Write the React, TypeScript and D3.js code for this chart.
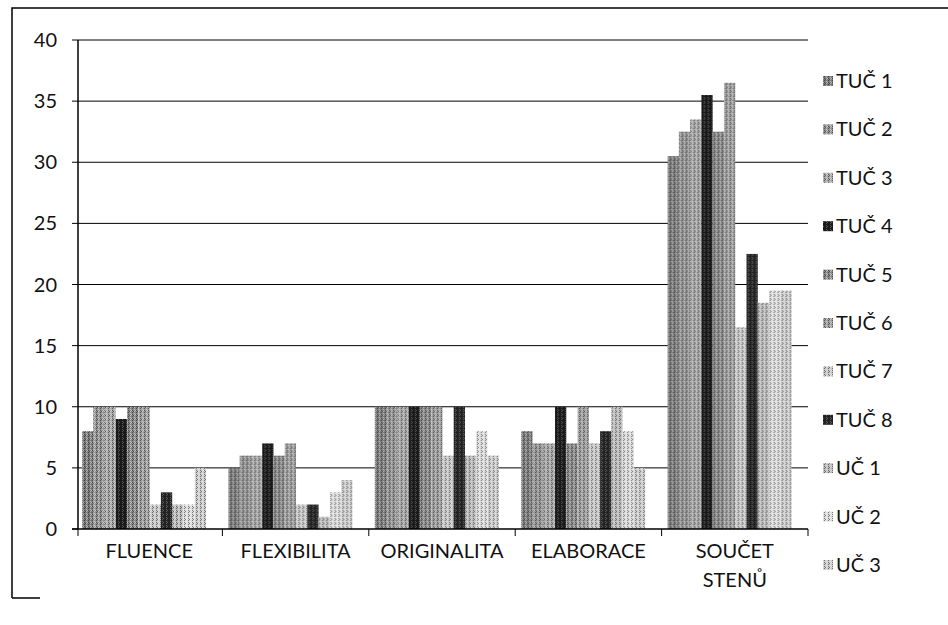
import React from 'react';
import * as d3 from 'd3';

const categories = ['FLUENCE', 'FLEXIBILITA', 'ORIGINALITA', 'ELABORACE', 'SOUČET STENŮ'];
const seriesNames = ['TUČ 1', 'TUČ 2', 'TUČ 3', 'TUČ 4', 'TUČ 5', 'TUČ 6', 'TUČ 7', 'TUČ 8', 'UČ 1', 'UČ 2', 'UČ 3'];

// one value per series, in legend order
const fluence = [8, 10, 10, 9, 10, 10, 2, 3, 2, 2, 5];
const flexibilita = [5, 6, 6, 7, 6, 7, 2, 2, 1, 3, 4];
const originalita = [10, 10, 10, 10, 10, 10, 6, 10, 6, 8, 6];
const elaborace = [8, 7, 7, 10, 7, 10, 7, 8, 10, 8, 5];
const soucet = [30.5, 32.5, 33.5, 35.5, 32.5, 36.5, 16.5, 22.5, 18.5, 19.5, 19.5];
const yTicks = [0, 5, 10, 15, 20, 25, 30, 35, 40];

// scanned grey look of each series
const greys = ['#7d7d7d', '#959595', '#a8a8a8', '#1c1c1c', '#8a8a8a', '#a0a0a0', '#c9c9c9', '#262626', '#bdbdbd', '#dedede', '#cfcfcf'];
const speckles = [[0, 0], [2, 1], [1, 3], [3, 2], [0, 2], [2, 3]];

const font = 'Lato, "Open Sans", sans-serif';

export default function App() {
  const table = [fluence, flexibilita, originalita, elaborace, soucet];

  const left = 78, right = 808, top = 40, bottom = 529;
  const x0 = d3.scaleBand<string>().domain(categories).range([76, right]);
  const x1 = d3.scaleBand<string>().domain(seriesNames).range([6, 130]);
  const y = d3.scaleLinear().domain([0, 40]).range([bottom, top]);

  return (
    <svg width={948} height={625} style={{ position: 'absolute', left: 0, top: 0, background: '#fff' }}>
      <defs>
        {greys.map((g, i) => (
          <pattern key={i} id={`p${i}`} width={4} height={4} patternUnits="userSpaceOnUse">
            <rect width={4} height={4} fill={g} />
            {speckles.map(([sx, sy], k) => (
              <rect key={k} x={sx} y={sy} width={1} height={1}
                fill={k % 2 ? '#ffffff' : '#000000'} opacity={i === 3 || i === 7 ? 0.25 : 0.45} />
            ))}
          </pattern>
        ))}
      </defs>

      {/* outer frame of the scanned chart */}
      <path d="M12,598 V8 H948 M12,598 H40" fill="none" stroke="#000" strokeWidth={1.5} />

      {/* gridlines */}
      {yTicks.filter(t => t > 0).map(t => (
        <line key={t} x1={left} x2={right} y1={y(t)} y2={y(t)} stroke="#000" strokeWidth={1} />
      ))}

      {/* bars */}
      {categories.map((c, ci) => (
        <g key={c} transform={`translate(${x0(c)},0)`}>
          {seriesNames.map((s, si) => (
            <rect key={s} x={x1(s)} y={y(table[ci][si])} width={x1.bandwidth()}
              height={bottom - y(table[ci][si])} fill={`url(#p${si})`} />
          ))}
        </g>
      ))}

      {/* y axis */}
      <line x1={left} x2={left} y1={top} y2={bottom} stroke="#000" strokeWidth={1.5} />
      {yTicks.map(t => (
        <g key={t}>
          <line x1={left - 6} x2={left} y1={y(t)} y2={y(t)} stroke="#000" />
          <text x={57} y={y(t)} dy="0.35em" textAnchor="end" fontFamily={font} fontSize={20} fill="#111">{t}</text>
        </g>
      ))}

      {/* x axis */}
      <line x1={left - 6} x2={right} y1={bottom} y2={bottom} stroke="#000" strokeWidth={1.5} />
      {[...categories.map(c => x0(c) as number), right].map((v, i) => (
        <line key={i} x1={Math.max(v, left)} x2={Math.max(v, left)} y1={bottom} y2={bottom + 7} stroke="#000" />
      ))}
      {categories.map(c => {
        const words = c === 'SOUČET STENŮ' ? ['SOUČET', 'STENŮ'] : [c];
        const cx = (x0(c) as number) + x0.bandwidth() / 2;
        return (
          <text key={c} x={cx} y={558} textAnchor="middle" fontFamily={font} fontSize={20} fill="#111">
            {words.map((w, i) => (
              <tspan key={w} x={cx} dy={i ? 29 : 0}>{w}</tspan>
            ))}
          </text>
        );
      })}

      {/* legend */}
      {seriesNames.map((s, i) => {
        const ly = 81 + i * 48.4;
        return (
          <g key={s}>
            <rect x={823} y={ly - 5} width={10} height={10} fill={`url(#p${i})`} />
            <text x={836} y={ly} dy="0.35em" fontFamily={font} fontSize={20} fill="#111">{s}</text>
          </g>
        );
      })}
    </svg>
  );
}
